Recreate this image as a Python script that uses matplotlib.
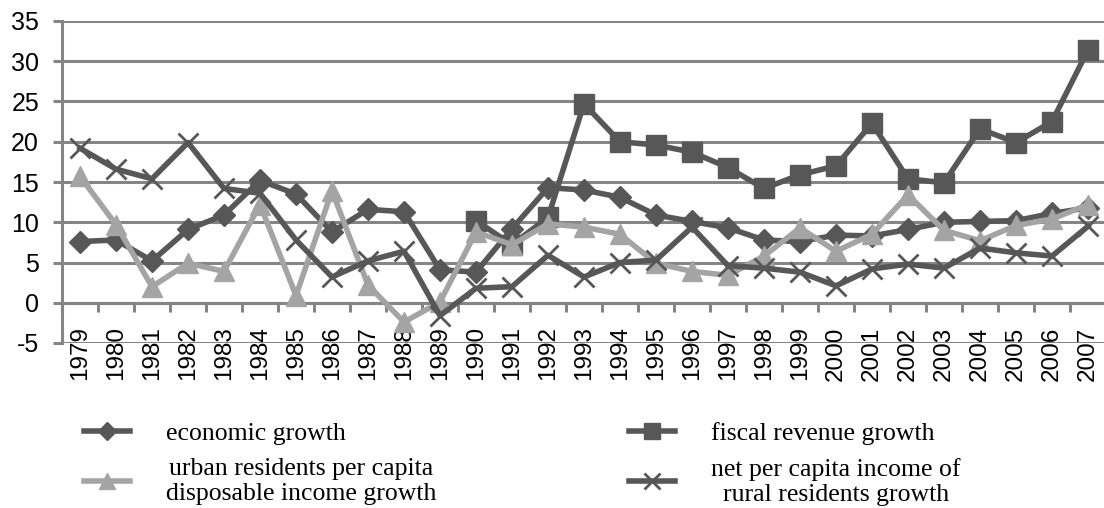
import matplotlib.pyplot as plt
import numpy as np

years = list(range(1979, 2008))
economic = [7.6, 7.8, 5.2, 9.1, 10.9, 15.2, 13.5, 8.8, 11.6, 11.3,
            4.1, 3.8, 9.2, 14.3, 14.0, 13.1, 10.9, 10.1, 9.3, 7.8,
            7.6, 8.4, 8.3, 9.1, 10.0, 10.1, 10.2, 11.1, 11.8]
fiscal = [np.nan] * 11 + [10.2, 7.2, 10.6, 24.7, 20.0, 19.6, 18.7, 16.8, 14.2,
                          15.9, 17.0, 22.3, 15.4, 14.9, 21.6, 19.9, 22.5, 31.4]
urban = [15.7, 9.7, 2.0, 4.9, 3.9, 12.2, 0.9, 13.9, 2.2, -2.4,
         0.1, 8.8, 7.2, 9.8, 9.4, 8.5, 4.9, 3.9, 3.4, 5.8,
         9.3, 6.4, 8.5, 13.4, 9.0, 7.7, 9.6, 10.4, 12.2]
rural = [19.2, 16.6, 15.4, 19.9, 14.2, 13.6, 7.8, 3.2, 5.2, 6.4,
         -1.6, 1.8, 2.0, 5.9, 3.2, 5.0, 5.3, 9.4, 4.6, 4.3,
         3.8, 2.1, 4.2, 4.8, 4.3, 6.8, 6.2, 5.8, 9.5]

labels = ['economic growth',
          'urban residents per capita\ndisposable income growth',
          'fiscal revenue growth',
          'net per capita income of\nrural residents growth']

dark = '#575757'
light = '#a4a4a4'
grid = '#858585'

plt.rcParams['font.family'] = 'Liberation Sans'
plt.rcParams['axes.unicode_minus'] = False

fig = plt.figure(figsize=(11.04, 5.08), dpi=100)
ax = fig.add_axes([62 / 1104, 165 / 508, 1044 / 1104, 322 / 508])

x = np.arange(len(years))

l1, = ax.plot(x, economic, color=dark, lw=4, marker='D', ms=11, zorder=3)
l2, = ax.plot(x, fiscal, color=dark, lw=4, marker='s', ms=15, zorder=4)
l3, = ax.plot(x, urban, color=light, lw=4, marker='^', ms=14, zorder=5)
l4, = ax.plot(x, rural, color=dark, lw=4, marker='x', ms=15, mew=2, zorder=6)

ax.set_xlim(-0.5, 28.5)
ax.set_ylim(-5, 35)
ax.set_yticks(range(-5, 36, 5))
ax.yaxis.grid(True, color=grid, lw=2.2)
ax.set_axisbelow(True)

for s in ['top', 'right']:
    ax.spines[s].set_visible(False)
ax.spines['bottom'].set_position(('data', 0))
ax.spines['bottom'].set_color(grid)
ax.spines['bottom'].set_linewidth(2.2)
ax.spines['left'].set_color(grid)
ax.spines['left'].set_linewidth(2.2)

ax.set_xticks(x)
ax.set_xticklabels([str(y) for y in years], rotation=90, fontsize=17.5)
ax.set_xticks(np.arange(-0.5, 29, 1), minor=True)
ax.tick_params(axis='x', which='major', length=0, pad=17)
ax.tick_params(axis='x', which='minor', length=6.5, width=2.2, color=grid)
ax.tick_params(axis='y', length=6.5, width=2.2, color=grid, pad=10, labelsize=18)

# legend below the plot, two columns
handles = [l1, l3, l2, l4]
leg = fig.legend(handles, [labels[0], labels[1], labels[2], labels[3]],
                 ncol=2, loc='upper left',
                 bbox_to_anchor=(71 / 1104, 1 - 409 / 508), frameon=False,
                 prop={'family': 'Liberation Serif', 'size': 18.5},
                 handlelength=1.8, handletextpad=1.4, columnspacing=7.5,
                 labelspacing=0.5, borderpad=0, markerscale=0.8)
for t in leg.get_texts():
    t.set_multialignment('center')

fig.savefig('out.png', dpi=100)
